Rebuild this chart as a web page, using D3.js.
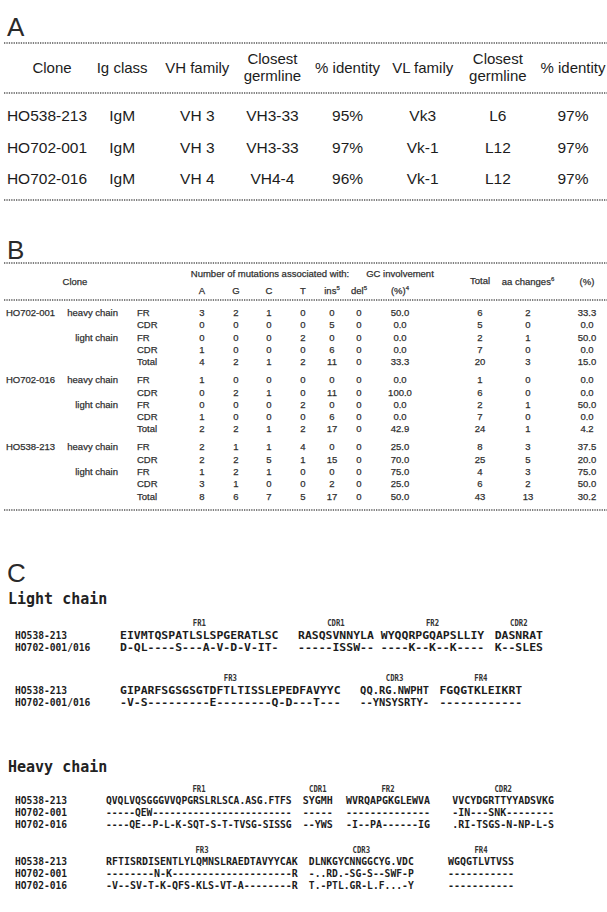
<!DOCTYPE html>
<html><head><meta charset="utf-8">
<script src="https://cdn.jsdelivr.net/npm/d3@7"></script>
<style>body{margin:0;background:#fff;}svg{display:block;}</style>
</head><body>
<script>
// ===== Panel A data =====
const aHeaders = [["Clone"],["Ig class"],["VH family"],["Closest","germline"],["% identity"],["VL family"],["Closest","germline"],["% identity"]];
const aClones = ["HO538-213","HO702-001","HO702-016"];
const aIgClass = ["IgM","IgM","IgM"];
const aVHfamily = ["VH 3","VH 3","VH 4"];
const aVHgermline = ["VH3-33","VH3-33","VH4-4"];
const aVHidentity = ["95%","97%","96%"];
const aVLfamily = ["Vk3","Vk-1","Vk-1"];
const aVLgermline = ["L6","L12","L12"];
const aVLidentity = ["97%","97%","97%"];

// ===== Panel B data =====
const bClones = ["HO702-001","HO702-016","HO538-213"];
const bChains = ["heavy chain","","light chain","",""];
const bRegions = ["FR","CDR","FR","CDR","Total"];
const bA   = [[3,0,0,1,4],[1,0,0,1,2],[2,2,1,3,8]];
const bG   = [[2,0,0,0,2],[0,2,0,0,2],[1,2,2,1,6]];
const bC   = [[1,0,0,0,1],[0,1,0,0,1],[1,5,1,0,7]];
const bT   = [[0,0,2,0,2],[0,0,2,0,2],[4,1,0,0,5]];
const bIns = [[0,5,0,6,11],[0,11,0,6,17],[0,15,0,2,17]];
const bDel = [[0,0,0,0,0],[0,0,0,0,0],[0,0,0,0,0]];
const bGC  = [["50.0","0.0","0.0","0.0","33.3"],["0.0","100.0","0.0","0.0","42.9"],["25.0","70.0","75.0","25.0","50.0"]];
const bTotal = [[6,5,2,7,20],[1,6,2,7,24],[8,25,4,6,43]];
const bAA  = [[2,0,1,0,3],[0,0,1,0,1],[3,5,3,2,13]];
const bPct = [["33.3","0.0","50.0","0.0","15.0"],["0.0","0.0","50.0","0.0","4.2"],["37.5","20.0","75.0","50.0","30.2"]];

// ===== Panel C data =====
const lightRowNames = ["HO538-213","HO702-001/016"];
const lightRegions1 = ["FR1","CDR1","FR2","CDR2"];
const lightSeq1 = [["EIVMTQSPATLSLSPGERATLSC","RASQSVNNYLA","WYQQRPGQAPSLLIY","DASNRAT"],
                   ["D-QL----S---A-V-D-V-IT-","-----ISSW--","----K--K--K----","K--SLES"]];
const lightRegions2 = ["FR3","CDR3","FR4"];
const lightSeq2 = [["GIPARFSGSGSGTDFTLTISSLEPEDFAVYYC","QQ.RG.NWPHT","FGQGTKLEIKRT"],
                   ["-V-S---------E--------Q-D---T---","--YNSYSRTY-","------------"]];
const heavyRowNames = ["HO538-213","HO702-001","HO702-016"];
const heavyRegions1 = ["FR1","CDR1","FR2","CDR2"];
const heavySeq1 = [["QVQLVQSGGGVVQPGRSLRLSCA.ASG.FTFS","SYGMH","WVRQAPGKGLEWVA","VVCYDGRTTYYADSVKG"],
                   ["-----QEW------------------------","-----","--------------","-IN---SNK--------"],
                   ["----QE--P-L-K-SQT-S-T-TVSG-SISSG","--YWS","-I--PA------IG",".RI-TSGS-N-NP-L-S"]];
const heavyRegions2 = ["FR3","CDR3","FR4"];
const heavySeq2 = [["RFTISRDISENTLYLQMNSLRAEDTAVYYCAK","DLNKGYCNNGGCYG.VDC","WGQGTLVTVSS"],
                   ["--------N-K--------------------R","-..RD.-SG-S--SWF-P","-----------"],
                   ["-V--SV-T-K-QFS-KLS-VT-A--------R","T.-PTL.GR-L.F...-Y","-----------"]];

// ===== Drawing =====
const W = 607, H = 912;
const ink = "#1c1c1c";
const SANS = "'Liberation Sans', Arial, sans-serif";
const MONO = "'DejaVu Sans Mono', monospace";
const svg = d3.select("body").append("svg").attr("width", W).attr("height", H);

function dotted(y){
  svg.append("line").attr("x1",4).attr("x2",W).attr("y1",y).attr("y2",y)
    .attr("stroke","#555").attr("stroke-width",1.3).attr("stroke-dasharray","1.3,1.1");
}
function panelLabel(t, y){
  svg.append("text").attr("x",7).attr("y",y).attr("font-family",SANS)
    .attr("font-size",26).attr("fill","#2a2a2a").text(t);
}

// ---- Panel A ----
panelLabel("A", 36);
dotted(43); dotted(93); dotted(200);
const xA = d3.scalePoint().domain(d3.range(aHeaders.length)).range([47, 573]);
const gA = svg.append("g").attr("font-family",SANS).attr("font-size",15.5).attr("fill",ink).attr("text-anchor","middle");
aHeaders.forEach((h,i)=>{
  const ys = h.length === 1 ? [73] : [64, 81];
  h.forEach((t,j)=> gA.append("text").attr("x", xA(i) + (i===0?5:0)).attr("y", ys[j]).attr("font-size",15).text(t));
});
const aCols = [aClones,aIgClass,aVHfamily,aVHgermline,aVHidentity,aVLfamily,aVLgermline,aVLidentity];
const yA = d3.scalePoint().domain(d3.range(aClones.length)).range([121, 184]);
aCols.forEach((col,i)=> col.forEach((v,r)=> gA.append("text").attr("x", xA(i)).attr("y", yA(r)).text(v)));

// ---- Panel B ----
panelLabel("B", 259);
dotted(263); dotted(300); dotted(510);
const bx = {A:202, G:236, C:269, T:303, ins:332, del:359, GC:400, Total:480, aa:528, pct:587};
const gB = svg.append("g").attr("font-family",SANS).attr("font-size",9.5).attr("fill","#222")
  .attr("stroke","#444").attr("stroke-width",0.25);
function bText(x, y, t, anchor, sup){
  const el = gB.append("text").attr("x",x).attr("y",y).attr("text-anchor",anchor||"middle");
  el.append("tspan").text(t);
  if (sup) el.append("tspan").attr("font-size",6).attr("dy",-4).text(sup);
  return el;
}
bText(75, 285, "Clone");
bText(270, 277, "Number of mutations associated with:");
bText(bx.A, 294, "A"); bText(bx.G, 294, "G"); bText(bx.C, 294, "C"); bText(bx.T, 294, "T");
bText(bx.ins, 294, "ins", "middle", "5"); bText(bx.del, 294, "del", "middle", "5");
bText(bx.GC, 277, "GC involvement"); bText(bx.GC, 294, "(%)", "middle", "4");
bText(bx.Total, 284, "Total"); bText(bx.aa, 285, "aa changes", "middle", "6"); bText(bx.pct, 285, "(%)");

const step = 12.3, groupStep = 4*step + 18, y0B = 316;
const yB = (g, r) => y0B + g*groupStep + r*step;
bClones.forEach((cl, g)=>{
  bText(6, yB(g,0), cl, "start");
  bChains.forEach((c, r)=> { if (c) bText(118, yB(g,r), c, "end"); });
  bRegions.forEach((rg, r)=>{
    const y = yB(g,r);
    bText(137, y, rg, "start");
    bText(bx.A, y, bA[g][r]);
    bText(bx.G, y, bG[g][r]);
    bText(bx.C, y, bC[g][r]);
    bText(bx.T, y, bT[g][r]);
    bText(bx.ins, y, bIns[g][r]);
    bText(bx.del, y, bDel[g][r]);
    bText(bx.GC, y, bGC[g][r]);
    bText(bx.Total, y, bTotal[g][r]);
    bText(bx.aa, y, bAA[g][r]);
    bText(bx.pct, y, bPct[g][r]);
  });
});

// ---- Panel C ----
panelLabel("C", 582);
const gC = svg.append("g").attr("fill", ink);
const MONO_ADV = 0.602;
function heading(t, y){
  gC.append("text").attr("x",8).attr("y",y).attr("font-family",MONO).attr("font-weight","bold")
    .attr("font-size",15).attr("fill","#222").text(t);
}
const eff = s => s.replace(/\./g,"").length + 0.5*(s.split(".").length-1);
// condensed text: horizontally scaled monospace glyphs fitted to a width
function fitText(x, y, t, width, size, fill){
  const sx = width / (t.length*MONO_ADV*size);
  gC.append("text").attr("transform",`translate(${x},${y}) scale(${sx},1)`)
    .attr("font-family",MONO).attr("font-weight","bold").attr("font-size",size)
    .attr("fill", fill || ink).text(t);
}
function block(regions, seqs, names, yLab, yRow0, rowStep, x0, pitch, gaps){
  const ref = seqs[0];
  let off = 0;
  const starts = [], widths = [];
  ref.forEach((s,k)=>{ starts.push(off); widths.push(eff(s)*pitch); off += eff(s) + (gaps[k]||0); });
  const xs = d3.scaleLinear().domain([0,1]).range([x0, x0+pitch]);
  regions.forEach((r,k)=>{
    const cx = xs(starts[k]) + widths[k]/2;
    fitText(cx - r.length*2.2, yLab, r, r.length*4.4, 9.5, "#333");
  });
  seqs.forEach((row, i)=>{
    const y = yRow0 + i*rowStep;
    fitText(15, y, names[i], names[i].length*5.8, 10.5);
    row.forEach((s,k)=> fitText(xs(starts[k]), y, s, widths[k], 11));
  });
}
heading("Light chain", 604);
block(lightRegions1, lightSeq1, lightRowNames, 626, 639, 12, 120, 6.9, [2.8,1,1.5]);
block(lightRegions2, lightSeq2, lightRowNames, 681, 694, 12, 120, 6.9, [2.8,1.5]);
heading("Heavy chain", 772);
block(heavyRegions1, heavySeq1, heavyRowNames, 792, 804, 12, 106, 6.0, [1.8,2.2,3.7]);
block(heavyRegions2, heavySeq2, heavyRowNames, 853, 865, 12, 106, 6.0, [1.8,5.7]);
</script>
</body></html>
